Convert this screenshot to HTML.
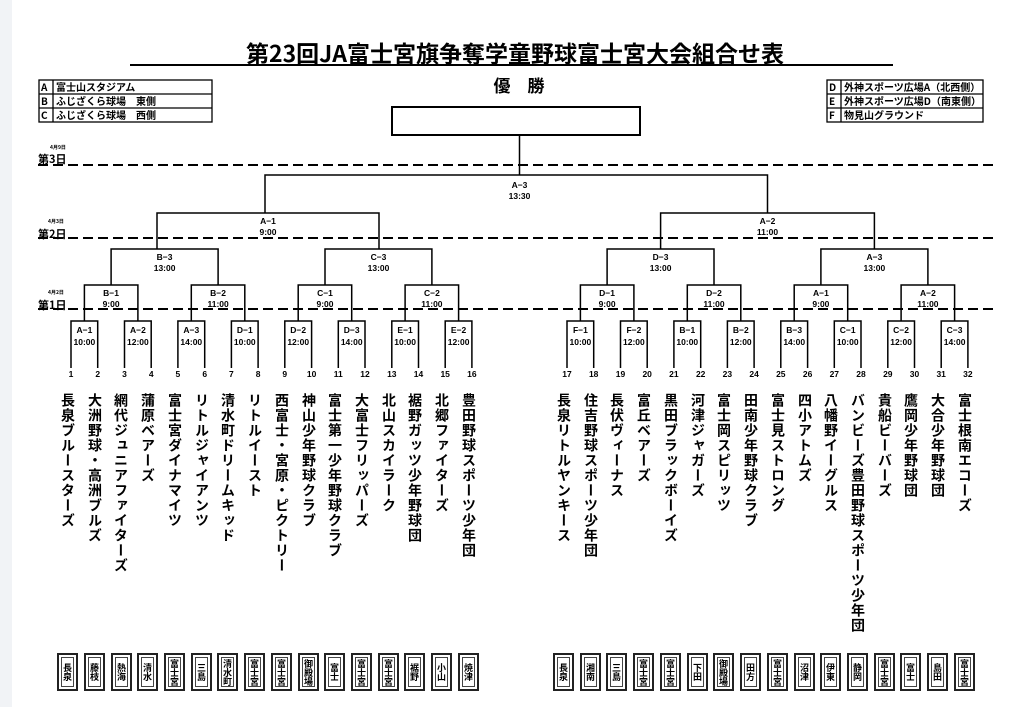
<!DOCTYPE html>
<html><head><meta charset="utf-8">
<style>
html,body{margin:0;padding:0;background:#fff;}
body{width:1024px;height:707px;position:relative;overflow:hidden;font-family:"Liberation Sans","Noto Sans CJK JP",sans-serif;}
svg{position:absolute;left:0;top:0;}
.t{position:absolute;top:393px;width:18px;writing-mode:vertical-rl;font-weight:bold;font-size:14px;line-height:18px;letter-spacing:1px;color:#000;font-family:"Noto Sans CJK JP",sans-serif;}
.b{position:absolute;top:653px;width:17px;height:34px;border:2px solid #222;box-sizing:content-box;}
.b span{position:absolute;left:2px;top:2px;right:2px;bottom:2px;border:1px solid #444;writing-mode:vertical-rl;font-size:9px;font-weight:bold;line-height:11px;display:flex;align-items:center;justify-content:center;font-family:"Noto Sans CJK JP",sans-serif;}
</style></head><body>
<div style="position:absolute;left:0;top:0;width:12px;height:707px;background:#f1f3f6"></div>
<svg width="1024" height="707" viewBox="0 0 1024 707" font-family="Liberation Sans, Noto Sans CJK JP, sans-serif">
<text x="515" y="62" text-anchor="middle" font-size="23" font-weight="bold" font-family="Noto Sans CJK JP, sans-serif">第23回JA富士宮旗争奪学童野球富士宮大会組合せ表</text>
<line x1="130" y1="65" x2="893" y2="65" stroke="#000" stroke-width="2"/>
<text x="519" y="92" text-anchor="middle" font-size="17" font-weight="bold" font-family="Noto Sans CJK JP, sans-serif">優　勝</text>
<rect x="392" y="107" width="248" height="28" fill="none" stroke="#000" stroke-width="2"/>
<!-- legends -->
<g stroke="#000" stroke-width="1.3" fill="none">
<rect x="39" y="80" width="173" height="42"/><line x1="39" y1="94" x2="212" y2="94"/><line x1="39" y1="108" x2="212" y2="108"/><line x1="53" y1="80" x2="53" y2="122"/>
<rect x="827" y="80" width="156" height="42"/><line x1="827" y1="94" x2="983" y2="94"/><line x1="827" y1="108" x2="983" y2="108"/><line x1="841" y1="80" x2="841" y2="122"/>
</g>
<g font-size="10" font-weight="bold" font-family="Noto Sans CJK JP, sans-serif">
<text x="41" y="91">A</text><text x="56" y="91">富士山スタジアム</text>
<text x="41" y="105">B</text><text x="56" y="105">ふじざくら球場　東側</text>
<text x="41" y="119">C</text><text x="56" y="119">ふじざくら球場　西側</text>
<text x="829" y="91">D</text><text x="844" y="91">外神スポーツ広場A（北西側）</text>
<text x="829" y="105">E</text><text x="844" y="105">外神スポーツ広場D（南東側）</text>
<text x="829" y="119">F</text><text x="844" y="119">物見山グラウンド</text>
</g>
<!-- days -->
<g font-weight="bold" font-family="Noto Sans CJK JP, sans-serif">
<text x="50" y="149" font-size="5">4月9日</text><text x="38" y="163" font-size="11">第3日</text>
<text x="48" y="223" font-size="5">4月3日</text><text x="38" y="238" font-size="11">第2日</text>
<text x="48" y="294" font-size="5">4月2日</text><text x="38" y="309" font-size="11">第1日</text>
</g>
<g stroke="#000" stroke-width="2" stroke-dasharray="10 5">
<line x1="38" y1="165" x2="993" y2="165"/>
<line x1="38" y1="238" x2="993" y2="238"/>
<line x1="38" y1="309" x2="993" y2="309"/>
</g>
<!-- bracket -->
<g stroke="#000" stroke-width="1.5" fill="none">
<path d="M71,368V321H97.7V368M124.5,368V321H151.2V368M177.9,368V321H204.7V368M231.4,368V321H258.1V368M284.8,368V321H311.6V368M338.3,368V321H365V368M391.8,368V321H418.5V368M445.2,368V321H471.9V368"/>
<path d="M567,368V321H593.7V368M620.5,368V321H647.2V368M673.9,368V321H700.7V368M727.4,368V321H754.1V368M780.8,368V321H807.6V368M834.3,368V321H861V368M887.8,368V321H914.5V368M941.2,368V321H967.9V368"/>
<path d="M84.4,321V285H137.9V321M191.3,321V285H244.8V321M298.2,321V285H351.7V321M405.1,321V285H458.6V321M580.4,321V285H633.9V321M687.3,321V285H740.8V321M794.2,321V285H847.7V321M901.1,321V285H954.6V321"/>
<path d="M111.1,285V249H218.1V285M325,285V249H431.9V285M607.1,285V249H714V285M820.9,285V249H927.9V285"/>
<path d="M157,249V213H379V249M660.6,249V213H874.4V249"/>
<path d="M265,213V175H767.5V213M519.5,175V135"/>
</g>
<g font-size="8.5" font-weight="bold" text-anchor="middle">
<text x="84.4" y="333">A−1</text><text x="84.4" y="345">10:00</text>
<text x="137.9" y="333">A−2</text><text x="137.9" y="345">12:00</text>
<text x="191.3" y="333">A−3</text><text x="191.3" y="345">14:00</text>
<text x="244.8" y="333">D−1</text><text x="244.8" y="345">10:00</text>
<text x="298.2" y="333">D−2</text><text x="298.2" y="345">12:00</text>
<text x="351.7" y="333">D−3</text><text x="351.7" y="345">14:00</text>
<text x="405.1" y="333">E−1</text><text x="405.1" y="345">10:00</text>
<text x="458.6" y="333">E−2</text><text x="458.6" y="345">12:00</text>
<text x="580.4" y="333">F−1</text><text x="580.4" y="345">10:00</text>
<text x="633.9" y="333">F−2</text><text x="633.9" y="345">12:00</text>
<text x="687.3" y="333">B−1</text><text x="687.3" y="345">10:00</text>
<text x="740.8" y="333">B−2</text><text x="740.8" y="345">12:00</text>
<text x="794.2" y="333">B−3</text><text x="794.2" y="345">14:00</text>
<text x="847.7" y="333">C−1</text><text x="847.7" y="345">10:00</text>
<text x="901.1" y="333">C−2</text><text x="901.1" y="345">12:00</text>
<text x="954.6" y="333">C−3</text><text x="954.6" y="345">14:00</text>
<text x="111.1" y="296">B−1</text><text x="111.1" y="307">9:00</text>
<text x="218.1" y="296">B−2</text><text x="218.1" y="307">11:00</text>
<text x="325" y="296">C−1</text><text x="325" y="307">9:00</text>
<text x="431.9" y="296">C−2</text><text x="431.9" y="307">11:00</text>
<text x="607.1" y="296">D−1</text><text x="607.1" y="307">9:00</text>
<text x="714" y="296">D−2</text><text x="714" y="307">11:00</text>
<text x="820.9" y="296">A−1</text><text x="820.9" y="307">9:00</text>
<text x="927.9" y="296">A−2</text><text x="927.9" y="307">11:00</text>
<text x="164.6" y="260">B−3</text><text x="164.6" y="271">13:00</text>
<text x="378.5" y="260">C−3</text><text x="378.5" y="271">13:00</text>
<text x="660.6" y="260">D−3</text><text x="660.6" y="271">13:00</text>
<text x="874.4" y="260">A−3</text><text x="874.4" y="271">13:00</text>
<text x="268" y="224">A−1</text><text x="268" y="235">9:00</text>
<text x="767.5" y="224">A−2</text><text x="767.5" y="235">11:00</text>
<text x="519.5" y="188">A−3</text><text x="519.5" y="199">13:30</text>
</g>
<g font-size="8.5" font-weight="bold" text-anchor="middle">
<text x="71" y="377">1</text><text x="97.7" y="377">2</text><text x="124.5" y="377">3</text><text x="151.2" y="377">4</text><text x="177.9" y="377">5</text><text x="204.7" y="377">6</text><text x="231.4" y="377">7</text><text x="258.1" y="377">8</text><text x="284.8" y="377">9</text><text x="311.6" y="377">10</text><text x="338.3" y="377">11</text><text x="365" y="377">12</text><text x="391.8" y="377">13</text><text x="418.5" y="377">14</text><text x="445.2" y="377">15</text><text x="471.9" y="377">16</text>
<text x="567" y="377">17</text><text x="593.7" y="377">18</text><text x="620.5" y="377">19</text><text x="647.2" y="377">20</text><text x="673.9" y="377">21</text><text x="700.7" y="377">22</text><text x="727.4" y="377">23</text><text x="754.1" y="377">24</text><text x="780.8" y="377">25</text><text x="807.6" y="377">26</text><text x="834.3" y="377">27</text><text x="861" y="377">28</text><text x="887.8" y="377">29</text><text x="914.5" y="377">30</text><text x="941.2" y="377">31</text><text x="967.9" y="377">32</text>
</g>
</svg>
<div class="t" style="left:59px">長泉ブルースターズ</div>
<div class="t" style="left:86px">大洲野球・高洲ブルズ</div>
<div class="t" style="left:112px">網代ジュニアファイターズ</div>
<div class="t" style="left:139px">蒲原ベアーズ</div>
<div class="t" style="left:166px">富士宮ダイナマイツ</div>
<div class="t" style="left:193px">リトルジャイアンツ</div>
<div class="t" style="left:219px">清水町ドリームキッド</div>
<div class="t" style="left:246px">リトルイースト</div>
<div class="t" style="left:273px">西富士・宮原・ピクトリー</div>
<div class="t" style="left:300px">神山少年野球クラブ</div>
<div class="t" style="left:326px">富士第一少年野球クラブ</div>
<div class="t" style="left:353px">大富士フリッパーズ</div>
<div class="t" style="left:380px">北山スカイラーク</div>
<div class="t" style="left:406px">裾野ガッツ少年野球団</div>
<div class="t" style="left:433px">北郷ファイターズ</div>
<div class="t" style="left:460px">豊田野球スポーツ少年団</div>
<div class="t" style="left:555px">長泉リトルヤンキース</div>
<div class="t" style="left:582px">住吉野球スポーツ少年団</div>
<div class="t" style="left:608px">長伏ヴィーナス</div>
<div class="t" style="left:635px">富丘ベアーズ</div>
<div class="t" style="left:662px">黒田ブラックボーイズ</div>
<div class="t" style="left:689px">河津ジャガーズ</div>
<div class="t" style="left:715px">富士岡スピリッツ</div>
<div class="t" style="left:742px">田南少年野球クラブ</div>
<div class="t" style="left:769px">富士見ストロング</div>
<div class="t" style="left:796px">四小アトムズ</div>
<div class="t" style="left:822px">八幡野イーグルス</div>
<div class="t" style="left:849px">バンビーズ豊田野球スポーツ少年団</div>
<div class="t" style="left:876px">貴船ビーバーズ</div>
<div class="t" style="left:902px">鷹岡少年野球団</div>
<div class="t" style="left:929px">大合少年野球団</div>
<div class="t" style="left:956px">富士根南エコーズ</div>

<div class="b" style="left:57px"><span>長泉</span></div>
<div class="b" style="left:84px"><span>藤枝</span></div>
<div class="b" style="left:111px"><span>熱海</span></div>
<div class="b" style="left:137px"><span>清水</span></div>
<div class="b" style="left:164px"><span>富士宮</span></div>
<div class="b" style="left:191px"><span>三島</span></div>
<div class="b" style="left:217px"><span>清水町</span></div>
<div class="b" style="left:244px"><span>富士宮</span></div>
<div class="b" style="left:271px"><span>富士宮</span></div>
<div class="b" style="left:298px"><span>御殿場</span></div>
<div class="b" style="left:324px"><span>富士</span></div>
<div class="b" style="left:351px"><span>富士宮</span></div>
<div class="b" style="left:378px"><span>富士宮</span></div>
<div class="b" style="left:404px"><span>裾野</span></div>
<div class="b" style="left:431px"><span>小山</span></div>
<div class="b" style="left:458px"><span>焼津</span></div>
<div class="b" style="left:553px"><span>長泉</span></div>
<div class="b" style="left:580px"><span>湘南</span></div>
<div class="b" style="left:606px"><span>三島</span></div>
<div class="b" style="left:633px"><span>富士宮</span></div>
<div class="b" style="left:660px"><span>富士宮</span></div>
<div class="b" style="left:687px"><span>下田</span></div>
<div class="b" style="left:713px"><span>御殿場</span></div>
<div class="b" style="left:740px"><span>田方</span></div>
<div class="b" style="left:767px"><span>富士宮</span></div>
<div class="b" style="left:794px"><span>沼津</span></div>
<div class="b" style="left:820px"><span>伊東</span></div>
<div class="b" style="left:847px"><span>静岡</span></div>
<div class="b" style="left:874px"><span>富士宮</span></div>
<div class="b" style="left:900px"><span>富士</span></div>
<div class="b" style="left:927px"><span>島田</span></div>
<div class="b" style="left:954px"><span>富士宮</span></div>
</body></html>
